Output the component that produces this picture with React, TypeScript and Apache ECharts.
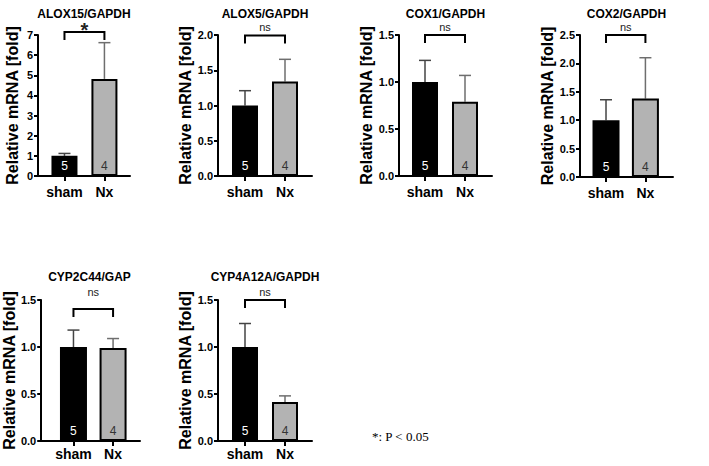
import React, { useEffect, useRef } from 'react';
import * as echarts from 'echarts';

const titles = ['ALOX15/GAPDH', 'ALOX5/GAPDH', 'COX1/GAPDH', 'COX2/GAPDH', 'CYP2C44/GAP', 'CYP4A12A/GAPDH'];
const categories = ['sham', 'Nx'];
const groupN = [5, 4];
const shamMean = [1.0, 1.0, 1.0, 1.0, 1.0, 1.0];
const shamUpper = [1.12, 1.21, 1.23, 1.36, 1.18, 1.25];
const nxMean = [4.82, 1.34, 0.79, 1.38, 0.99, 0.415];
const nxUpper = [6.62, 1.655, 1.07, 2.1, 1.09, 0.48];
const significance = ['*', 'ns', 'ns', 'ns', 'ns', 'ns'];
const yMax = [7, 2, 1.5, 2.5, 1.5, 1.5];
const yInterval = [1, 0.5, 0.5, 0.5, 0.5, 0.5];
const yDecimals = [0, 1, 1, 1, 1, 1];
const yAxisTitle = 'Relative mRNA [fold]';
const footnote = '*: P < 0.05';

const FONT = '"Liberation Sans", Arial, Helvetica, sans-serif';
const SERIF = '"Liberation Serif", "Times New Roman", serif';

const layout = [
  { left: 38, top: 35, width: 92, height: 141, xMin: -0.6625, xMax: 1.64, barW: 26, nameGap: 18, labelMargin: 9, titleDy: -21, bracketDy: -3 },
  { left: 218, top: 35, width: 94, height: 141, xMin: -0.675, xMax: 1.675, barW: 26, nameGap: 21, labelMargin: 9, titleDy: -21, bracketDy: 0.5 },
  { left: 399, top: 35, width: 93, height: 141, xMin: -0.65, xMax: 1.675, barW: 26, nameGap: 21, labelMargin: 9, titleDy: -21, bracketDy: 0 },
  { left: 580, top: 35, width: 93, height: 142, xMin: -0.66, xMax: 1.7, barW: 27, nameGap: 23, labelMargin: 9, titleDy: -21, bracketDy: 0 },
  { left: 39, top: 300, width: 101, height: 141, xMin: -0.815, xMax: 1.68, barW: 27, nameGap: 21, labelMargin: 6, titleDy: -23, bracketDy: 9 },
  { left: 218, top: 300, width: 94, height: 141, xMin: -0.675, xMax: 1.675, barW: 26, nameGap: 21, labelMargin: 6, titleDy: -23, bracketDy: 0 },
];

function buildOption() {
  const grid = layout.map((l) => ({ left: l.left, top: l.top, width: l.width, height: l.height }));
  const xAxis = layout.map((l, i) => ({
    type: 'value',
    gridIndex: i,
    min: l.xMin,
    max: l.xMax,
    axisLine: { show: true, onZero: false, lineStyle: { color: '#000', width: 2 } },
    axisTick: { show: true, customValues: [0, 1], length: 5, lineStyle: { color: '#000', width: 2 } },
    axisLabel: {
      show: true,
      customValues: [0, 1],
      formatter: (v: number) => categories[Math.round(v)] ?? '',
      color: '#000',
      fontFamily: FONT,
      fontWeight: 'bold',
      fontSize: 14,
      margin: l.labelMargin,
    },
    splitLine: { show: false },
  }));
  const yAxis = layout.map((l, i) => ({
    type: 'value',
    gridIndex: i,
    min: 0,
    max: yMax[i],
    interval: yInterval[i],
    axisLine: { show: true, onZero: false, lineStyle: { color: '#000', width: 2 } },
    axisTick: { show: true, length: 4, lineStyle: { color: '#000', width: 2 } },
    axisLabel: {
      formatter: (v: number) => v.toFixed(yDecimals[i]),
      color: '#000',
      fontFamily: FONT,
      fontWeight: 'bold',
      fontSize: 11,
      margin: 5,
    },
    splitLine: { show: false },
    name: yAxisTitle,
    nameLocation: 'middle',
    nameGap: l.nameGap,
    nameTextStyle: { color: '#000', fontFamily: FONT, fontWeight: 'bold', fontSize: 16 },
  }));

  const series: any[] = [];
  layout.forEach((l, i) => {
    series.push({
      type: 'custom',
      xAxisIndex: i,
      yAxisIndex: i,
      z: 1,
      silent: true,
      encode: { x: 0, y: [1, 2] },
      data: [
        [0, shamMean[i], shamUpper[i]],
        [1, nxMean[i], nxUpper[i]],
      ],
      renderItem: (params: any, api: any) => {
        const x = api.value(0);
        const lo = api.coord([x, api.value(1)]);
        const hi = api.coord([x, api.value(2)]);
        const color = x === 0 ? '#444' : '#6e6e6e';
        const style = { stroke: color, lineWidth: 1.5 };
        return {
          type: 'group',
          children: [
            { type: 'line', shape: { x1: lo[0], y1: lo[1], x2: hi[0], y2: hi[1] }, style },
            { type: 'line', shape: { x1: hi[0] - 6, y1: hi[1], x2: hi[0] + 6, y2: hi[1] }, style },
          ],
        };
      },
    });
    series.push({
      type: 'bar',
      xAxisIndex: i,
      yAxisIndex: i,
      z: 2,
      barWidth: l.barW,
      silent: true,
      data: [
        { value: [0, shamMean[i]], itemStyle: { color: '#000', borderColor: '#000', borderWidth: 2 }, label: { color: '#fff' } },
        { value: [1, nxMean[i]], itemStyle: { color: '#b3b3b3', borderColor: '#000', borderWidth: 2 }, label: { color: '#333' } },
      ],
      label: {
        show: true,
        position: 'insideBottom',
        distance: 4,
        formatter: (p: any) => String(groupN[p.dataIndex]),
        fontFamily: FONT,
        fontSize: 12,
      },
    });
    series.push({
      type: 'custom',
      xAxisIndex: i,
      yAxisIndex: i,
      z: 3,
      silent: true,
      data: [[0, 0]],
      renderItem: (params: any, api: any) => {
        const a = api.coord([0, yMax[i]]);
        const b = api.coord([1, yMax[i]]);
        const gridTop = a[1];
        const top = gridTop + l.bracketDy;
        const isStar = significance[i] === '*';
        return {
          type: 'group',
          children: [
            {
              type: 'polyline',
              shape: { points: [[a[0], top + 8], [a[0], top], [b[0], top], [b[0], top + 8]] },
              style: { stroke: '#000', lineWidth: 2, fill: 'none' },
            },
            {
              type: 'text',
              style: {
                text: significance[i],
                x: (a[0] + b[0]) / 2,
                y: isStar ? top - 2 : gridTop - 8,
                align: 'center',
                verticalAlign: 'middle',
                fontFamily: FONT,
                fontSize: isStar ? 20 : 11,
                fontWeight: isStar ? 'bold' : 'normal',
                fill: '#222',
              },
            },
          ],
        };
      },
    });
  });

  const graphic: any[] = layout.map((l, i) => ({
    type: 'text',
    x: l.left + l.width / 2,
    y: l.top + l.titleDy,
    style: {
      text: titles[i],
      align: 'center',
      verticalAlign: 'middle',
      fontFamily: FONT,
      fontWeight: 'bold',
      fontSize: 12,
      fill: '#000',
    },
  }));
  graphic.push({
    type: 'text',
    x: 372,
    y: 436,
    style: { text: footnote, align: 'left', verticalAlign: 'middle', fontFamily: SERIF, fontSize: 13, fill: '#000' },
  });

  return { animation: false, backgroundColor: '#fff', grid, xAxis, yAxis, series, graphic };
}

export default function App() {
  const ref = useRef<HTMLDivElement>(null);
  useEffect(() => {
    if (!ref.current) return;
    const chart = echarts.init(ref.current, undefined, { renderer: 'svg' });
    chart.setOption(buildOption() as any);
    return () => chart.dispose();
  }, []);
  return <div ref={ref} style={{ position: 'fixed', left: 0, top: 0, width: 709, height: 466 }} />;
}
